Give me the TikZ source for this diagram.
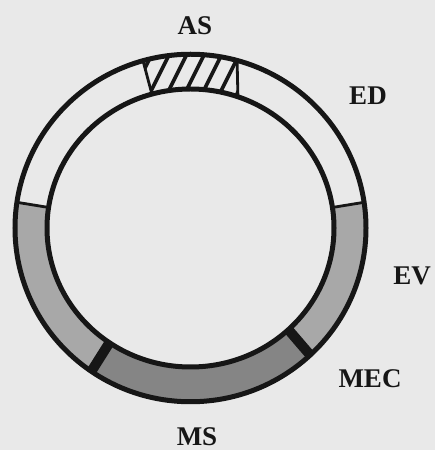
\documentclass[tikz,border=0pt]{standalone}
\usepackage{fontspec}
\setmainfont{Liberation Serif}
\definecolor{bgc}{HTML}{E9E9E9}
\definecolor{ink}{HTML}{161616}
\definecolor{lightst}{HTML}{A8A8A8}
\definecolor{darkst}{HTML}{858585}
\newcommand\ringseg[3]{%
  \fill[#1] ({\cx+\ora*cos(#2)},{\cy+\orb*sin(#2)})
    arc[start angle=#2, end angle=#3, x radius=\ora, y radius=\orb]
    -- ({\cx+\ira*cos(#3)},{\cy+\irb*sin(#3)})
    arc[start angle=#3, end angle=#2, x radius=\ira, y radius=\irb] -- cycle;}
\newcommand\ringcut[2]{%
  \draw[#1] ({\cx+\ora*cos(#2)},{\cy+\orb*sin(#2)}) -- ({\cx+\ira*cos(#2)},{\cy+\irb*sin(#2)});}
\begin{document}
\begin{tikzpicture}[x=1pt,y=1pt,
  lbl/.style={font=\fontsize{27}{30}\selectfont\bfseries, inner sep=0pt, anchor=base, text=ink},
  ringline/.style={line width=5pt, draw=ink},
  thincut/.style={line width=2.8pt, draw=ink},
  thickcut/.style={line width=10pt, draw=ink},
  hatchline/.style={line width=3.6pt, draw=ink}]
\useasboundingbox (0,0) rectangle (435,450);
\fill[bgc] (0,0) rectangle (435,450);
\def\cx{190.5}\def\cy{222}
\def\ora{175.5}\def\orb{173.75}\def\ira{143.5}\def\irb{139}
% stippled segments
\ringseg{lightst}{171.5}{235.6}
\ringseg{darkst}{235.6}{313}
\ringseg{lightst}{313}{368.5}
% hatched AS segment
\begin{scope}
  \clip ({\cx+\ora*cos(74.6)},{\cy+\orb*sin(74.6)})
    arc[start angle=74.6, end angle=105.7, x radius=\ora, y radius=\orb]
    -- ({\cx+\ira*cos(105.6)},{\cy+\irb*sin(105.6)})
    arc[start angle=105.6, end angle=70.7, x radius=\ira, y radius=\irb] -- cycle;
  \foreach \k in {-2,...,6}{
    \draw[hatchline] ({155+17.5*\k-10},347) -- ({155+17.5*\k+25},417);
  }
\end{scope}
\draw[thincut] ({\cx+\ora*cos(105.7)},{\cy+\orb*sin(105.7)}) -- ({\cx+\ira*cos(105.6)},{\cy+\irb*sin(105.6)});
\draw[thincut] ({\cx+\ora*cos(74.6)},{\cy+\orb*sin(74.6)}) -- ({\cx+\ira*cos(70.7)},{\cy+\irb*sin(70.7)});
% boundaries
\ringcut{thincut}{8.5}
\ringcut{thincut}{171.5}
\ringcut{thickcut}{235.6}
\ringcut{thickcut}{313}
% ring outlines
\draw[ringline] (\cx,\cy) ellipse[x radius=\ora, y radius=\orb];
\draw[ringline] (\cx,\cy) ellipse[x radius=\ira, y radius=\irb];
% labels
\node[lbl] (as) at (195,415) {AS};
\node[lbl] (ed) at (368,345) {ED};
\node[lbl] (ev) at (412,165) {EV};
\node[lbl] (mec) at (370,62) {MEC};
\node[lbl] (ms) at (197,5) {MS};
\end{tikzpicture}
\end{document}
